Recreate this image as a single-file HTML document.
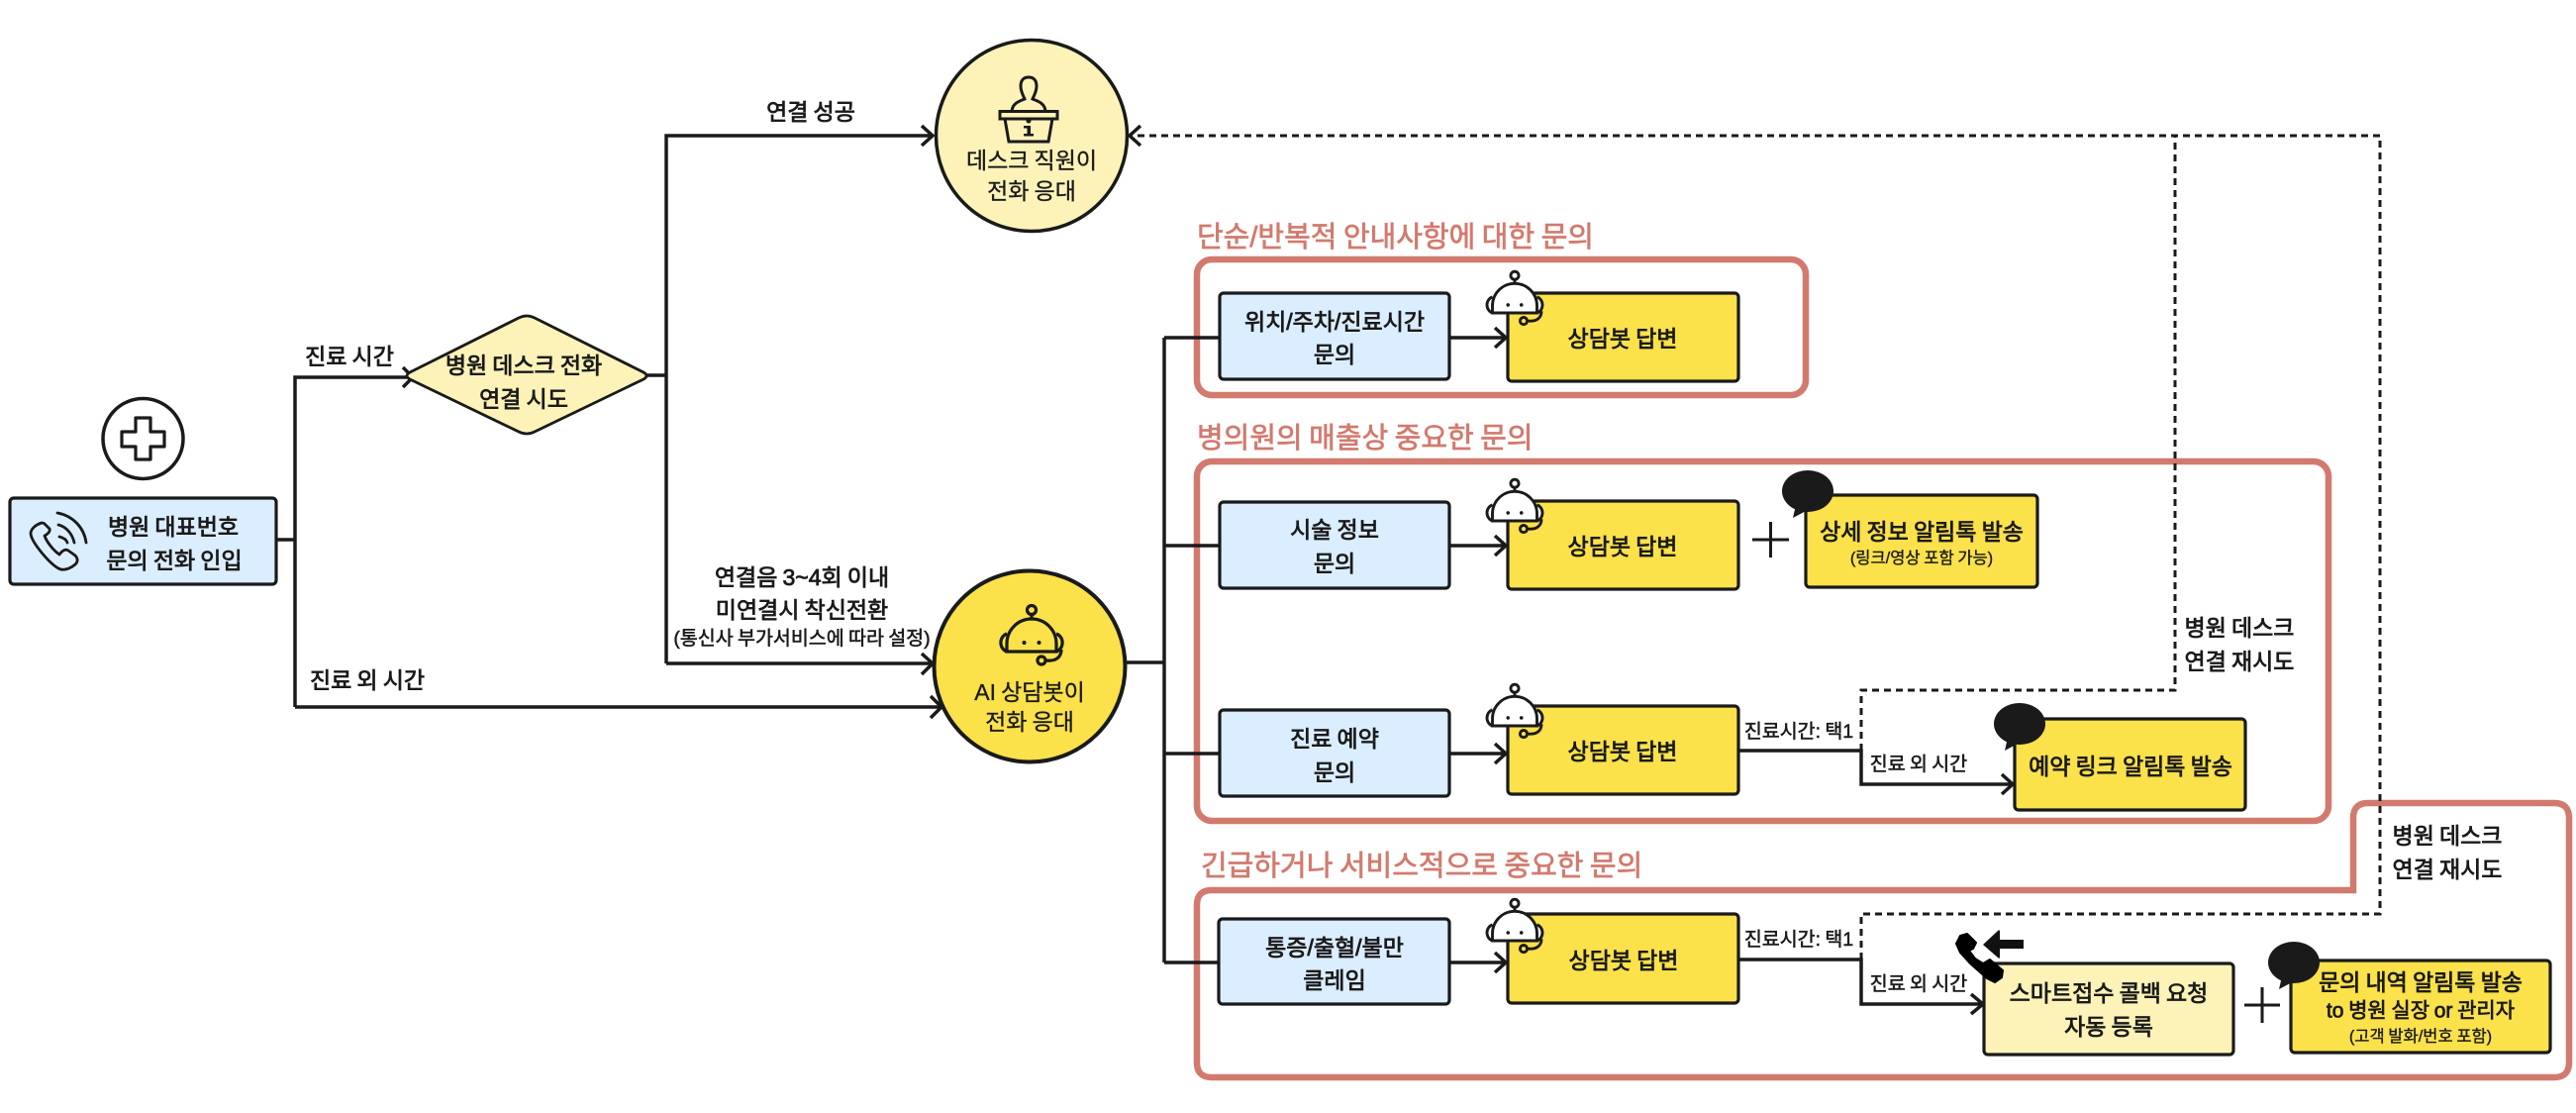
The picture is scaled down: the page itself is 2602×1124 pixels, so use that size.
<!DOCTYPE html>
<html lang="ko">
<head>
<meta charset="utf-8">
<title>병원 전화 상담 흐름도</title>
<style>
html,body{margin:0;padding:0;background:#fff;width:2602px;height:1124px;overflow:hidden}
svg{display:block}
text{font-family:"Liberation Sans","Noto Sans CJK KR",sans-serif;fill:#1a1a1a;text-anchor:middle;dominant-baseline:central;word-spacing:-.055em}
.b{font-size:23px;font-weight:400;stroke:#1a1a1a;stroke-width:.8px}
.r{font-size:23px;font-weight:400;stroke:#1a1a1a;stroke-width:.35px}
.s{font-size:19.5px;font-weight:400;stroke:#1a1a1a;stroke-width:.55px}
.t{font-size:29px;font-weight:400;fill:#d27a6e;stroke:#d27a6e;stroke-width:.7px;text-anchor:start}
.line{fill:none;stroke:#1a1a1a;stroke-width:3.5}
.arr{fill:none;stroke:#1a1a1a;stroke-width:3.5}
.dash{fill:none;stroke:#1a1a1a;stroke-width:3;stroke-dasharray:7 5}
.grp{fill:none;stroke:#d27a6e;stroke-width:6.5}
.blue{fill:#dbeeff;stroke:#1a1a1a;stroke-width:3.2}
.yel{fill:#fbe14a;stroke:#1a1a1a;stroke-width:3.2}
.pale{fill:#fdf3b8;stroke:#1a1a1a;stroke-width:3.2}
</style>
</head>
<body>
<svg xmlns="http://www.w3.org/2000/svg" width="2602" height="1124" viewBox="0 0 2602 1124">
<defs>
<g id="bot" fill="none" stroke="#1a1a1a" stroke-width="3.2">
  <path d="M-25,-18 A9,9.500 0 0 0 -25,0" fill="#fff"/>
  <path d="M25,-18 A9,9.500 0 0 1 25,0" fill="#fff"/>
  <path d="M30,-2 C30,6 24,10 15,9"/>
  <circle cx="10" cy="9" r="4"/>
  <circle cx="0" cy="-42" r="4.500"/>
  <path d="M0,-37.500V-33"/>
  <path d="M-25,0 V-8 A25,25 0 0 1 25,-8 V0 Z" fill="#fff"/>
  <circle cx="-7.500" cy="-9" r="2" fill="#1a1a1a" stroke="none"/>
  <circle cx="7.500" cy="-9" r="2" fill="#1a1a1a" stroke="none"/>
</g>
<g id="botY" fill="none" stroke="#1a1a1a" stroke-width="3.2">
  <path d="M-25,-18 A9,9.500 0 0 0 -25,0"/>
  <path d="M25,-18 A9,9.500 0 0 1 25,0"/>
  <path d="M30,-2 C30,6 24,10 15,9"/>
  <circle cx="10" cy="9" r="4"/>
  <circle cx="0" cy="-42" r="4.500"/>
  <path d="M0,-37.500V-33"/>
  <path d="M-25,0 V-8 A25,25 0 0 1 25,-8 V0 Z"/>
  <circle cx="-7.500" cy="-9" r="2" fill="#1a1a1a" stroke="none"/>
  <circle cx="7.500" cy="-9" r="2" fill="#1a1a1a" stroke="none"/>
</g>
<g id="bub" fill="#1a1a1a">
  <ellipse cx="0" cy="0" rx="26" ry="21"/>
  <path d="M-12,14 L-15,27 L2,18 Z"/>
</g>
</defs>

<!-- group frames -->
<rect class="grp" x="1209" y="262" width="615" height="137" rx="15"/>
<rect class="grp" x="1209" y="466" width="1143" height="363" rx="15"/>
<path class="grp" d="M1224,899 H2377 V826 Q2377,811 2392,811 H2580 Q2595,811 2595,826 V1073 Q2595,1088 2580,1088 H1224 Q1209,1088 1209,1073 V914 Q1209,899 1224,899 Z"/>

<text class="t" x="1209" y="240">단순/반복적 안내사항에 대한 문의</text>
<text class="t" x="1209" y="443">병의원의 매출상 중요한 문의</text>
<text class="t" x="1213" y="875">긴급하거나 서비스적으로 중요한 문의</text>

<!-- left connectors -->
<path class="line" d="M279,545 H298 M298,714 V381 H415"/>
<path class="arr" d="M407,371 L417,381 L407,391"/>
<path class="line" d="M298,714 H950"/>
<path class="arr" d="M940,703 L951,714 L940,725"/>
<path class="line" d="M651,379 H673"/>
<path class="line" d="M673,670 V137 H941"/>
<path class="arr" d="M931,127 L942,137 L931,147"/>
<path class="line" d="M673,670 H941"/>
<path class="arr" d="M931,660 L942,670 L931,681"/>

<!-- right trunk -->
<path class="line" d="M1137,669 H1176 M1176,341 V972 M1176,341 H1232 M1176,551 H1232 M1176,761 H1232 M1176,972 H1231"/>

<!-- row arrows -->
<path class="line" d="M1464,341 H1520 M1464,551 H1520 M1464,761 H1520 M1464,972 H1520"/>
<path class="arr" d="M1510,331 L1521,341 L1510,351 M1510,541 L1521,551 L1510,561 M1510,751 L1521,761 L1510,771 M1510,962 L1521,972 L1510,982"/>

<!-- row 3 / row 4 branch connectors -->
<path class="line" d="M1756,758 H1880 V792 H2033"/>
<path class="arr" d="M2022,782 L2033,792 L2022,802"/>
<path class="line" d="M1756,969 H1880 V1014 H2003"/>
<path class="arr" d="M1991,1004 L2003,1014 L1991,1024"/>

<!-- dashed retries -->
<path class="dash" d="M1880,758 V697 H2197 V137"/>
<path class="dash" d="M1880,969 V923 H2404 V137 H1143"/>
<path class="arr" d="M1152,127 L1141,137 L1152,147"/>

<!-- start -->
<circle cx="144.500" cy="443" r="40.500" fill="#fff" stroke="#1a1a1a" stroke-width="3.500"/>
<path d="M137,422 H152 V436 H166 V451 H152 V464 H137 V451 H123 V436 H137 Z" fill="#fff" stroke="#1a1a1a" stroke-width="3.200" stroke-linejoin="round"/>
<rect class="blue" x="10" y="503" width="269" height="87" rx="4"/>
<g fill="none" stroke="#1a1a1a" stroke-width="2.800" stroke-linecap="round" stroke-linejoin="round">
  <path d="M42,528 C36,530 31,534 31,539 C32,548 50,569 59,574 C64,577 72,574 77,569 C79,566 78,563 76,561 L69,556 C66,554 63,556 60,560 C54,556 47,547 45,541 C49,539 51,536 50,534 L45,529 C44,528 43,528 42,528 Z"/>
  <path d="M58,518 C74,521 85,533 87,548"/>
  <path d="M59,530 C67,532 73,539 75,548"/>
  <path d="M60,542 C64,543 67,545 68,548"/>
</g>
<text class="b" x="175" y="532">병원 대표번호</text>
<text class="b" x="176" y="566">문의 전화 인입</text>

<text class="b" x="353" y="360">진료 시간</text>
<text class="b" x="371" y="687">진료 외 시간</text>

<!-- diamond -->
<path d="M414,376 L524,321 Q532,317 540,321 L650,376 Q656,379.500 650,383 L540,436 Q532,440 524,436 L414,383 Q408,379.500 414,376 Z" fill="#fdf3b8" stroke="#1a1a1a" stroke-width="2.800"/>
<text class="b" x="529" y="369">병원 데스크 전화</text>
<text class="b" x="529" y="403">연결 시도</text>

<text class="b" x="819" y="113">연결 성공</text>
<text class="b" x="810" y="583">연결음 3~4회 이내</text>
<text class="b" x="810" y="616">미연결시 착신전환</text>
<text class="s" x="810" y="645">(통신사 부가서비스에 따라 설정)</text>

<!-- desk circle -->
<circle cx="1042" cy="137" r="96.500" fill="#fdf3b8" stroke="#1a1a1a" stroke-width="3.500"/>
<g fill="none" stroke="#1a1a1a" stroke-width="3">
  <path d="M1022,112 C1023,104 1030,102 1035,100 C1034,97 1031,93 1031,87 C1031,81 1034,78 1039,78 C1044,78 1047,81 1047,87 C1047,93 1044,97 1043,100 C1048,102 1055,104 1056,112"/>
  <path d="M1010,112.500 H1068 V120 H1010 Z"/>
  <path d="M1015,120 L1019,143 H1059 L1063,120"/>
</g>
<circle cx="1039" cy="122" r="2.500" fill="#1a1a1a"/>
<path d="M1034,127 H1041 V135 H1044 V137.500 H1034 V135 H1037.500 V129.500 H1034 Z" fill="#1a1a1a"/>
<text class="r" x="1042" y="162">데스크 직원이</text>
<text class="r" x="1042" y="193">전화 응대</text>

<!-- AI circle -->
<circle cx="1040" cy="673" r="96.500" fill="#fbe14a" stroke="#1a1a1a" stroke-width="4"/>
<use href="#botY" x="1042" y="658"/>
<text class="r" x="1040" y="699">AI 상담봇이</text>
<text class="r" x="1040" y="729">전화 응대</text>

<!-- blue boxes -->
<rect class="blue" x="1232" y="296" width="232" height="87" rx="4"/>
<text class="b" x="1348" y="325">위치/주차/진료시간</text>
<text class="b" x="1348" y="358">문의</text>
<rect class="blue" x="1232" y="507" width="232" height="87" rx="4"/>
<text class="b" x="1348" y="535">시술 정보</text>
<text class="b" x="1348" y="569">문의</text>
<rect class="blue" x="1232" y="717" width="232" height="87" rx="4"/>
<text class="b" x="1348" y="746">진료 예약</text>
<text class="b" x="1348" y="780">문의</text>
<rect class="blue" x="1231" y="928" width="233" height="86" rx="4"/>
<text class="b" x="1348" y="957">통증/출혈/불만</text>
<text class="b" x="1348" y="990">클레임</text>

<!-- yellow answer boxes -->
<rect class="yel" x="1523" y="296" width="233" height="89" rx="4"/>
<text class="b" x="1639" y="342">상담봇 답변</text>
<rect class="yel" x="1523" y="506" width="233" height="89" rx="4"/>
<text class="b" x="1639" y="552">상담봇 답변</text>
<rect class="yel" x="1523" y="713" width="233" height="89" rx="4"/>
<text class="b" x="1639" y="759">상담봇 답변</text>
<rect class="yel" x="1523" y="923" width="233" height="90" rx="4"/>
<text class="b" x="1640" y="970">상담봇 답변</text>

<use href="#bot" transform="translate(1530,316) scale(.9)"/>
<use href="#bot" transform="translate(1530,526) scale(.9)"/>
<use href="#bot" transform="translate(1530,733) scale(.9)"/>
<use href="#bot" transform="translate(1530,950) scale(.9)"/>

<!-- plus signs -->
<path d="M1770,545 H1807 M1788.500,527 V563 M2267,1015 H2303 M2285,997 V1033" fill="none" stroke="#1a1a1a" stroke-width="3"/>

<!-- right boxes -->
<rect class="yel" x="1824" y="500" width="234" height="93" rx="4"/>
<text class="b" x="1941" y="537">상세 정보 알림톡 발송</text>
<text class="s" style="font-size:16.500px;stroke-width:.35px" x="1941" y="564">(링크/영상 포함 가능)</text>
<use href="#bub" x="1826" y="496"/>

<rect class="yel" x="2035" y="726" width="233" height="92" rx="4"/>
<text class="b" x="2152" y="774">예약 링크 알림톡 발송</text>
<use href="#bub" x="2040" y="731"/>

<rect class="pale" x="2004" y="973" width="252" height="92" rx="4"/>
<text class="b" x="2130" y="1003">스마트접수 콜백 요청</text>
<text class="b" x="2130" y="1037">자동 등록</text>

<rect class="yel" x="2314" y="970" width="262" height="93" rx="4"/>
<text class="b" x="2445" y="992">문의 내역 알림톡 발송</text>
<text class="s" style="font-size:21px;stroke-width:.7px" x="2445" y="1021">to 병원 실장 or 관리자</text>
<text class="s" style="font-size:16.500px;stroke-width:.35px" x="2445" y="1047">(고객 발화/번호 포함)</text>
<use href="#bub" x="2317" y="972"/>

<!-- phone + arrow -->
<path d="M1976,953 L1980,945 L1987,943 L1996,952 L1993,958 L1989,960 L1995,968 L2003,973 L2010,969 L2023,980 L2022,987 L2015,992 L2007,988 L1990,973 L1980,962 Z" fill="#000" stroke="#000" stroke-width="2" stroke-linejoin="round"/>
<path d="M2003,954 L2018,940 Q2020,938 2020,941 V949 H2044 V958 H2020 V966 Q2020,969 2018,967 Z" fill="#111"/>

<!-- small labels -->
<text class="s" x="1817" y="739">진료시간: 택1</text>
<text class="s" x="1938" y="772">진료 외 시간</text>
<text class="s" x="1817" y="949">진료시간: 택1</text>
<text class="s" x="1938" y="994">진료 외 시간</text>

<text class="b" x="2262" y="634">병원 데스크</text>
<text class="b" x="2262" y="668">연결 재시도</text>
<text class="b" x="2472" y="844">병원 데스크</text>
<text class="b" x="2472" y="878">연결 재시도</text>
</svg>
</body>
</html>
